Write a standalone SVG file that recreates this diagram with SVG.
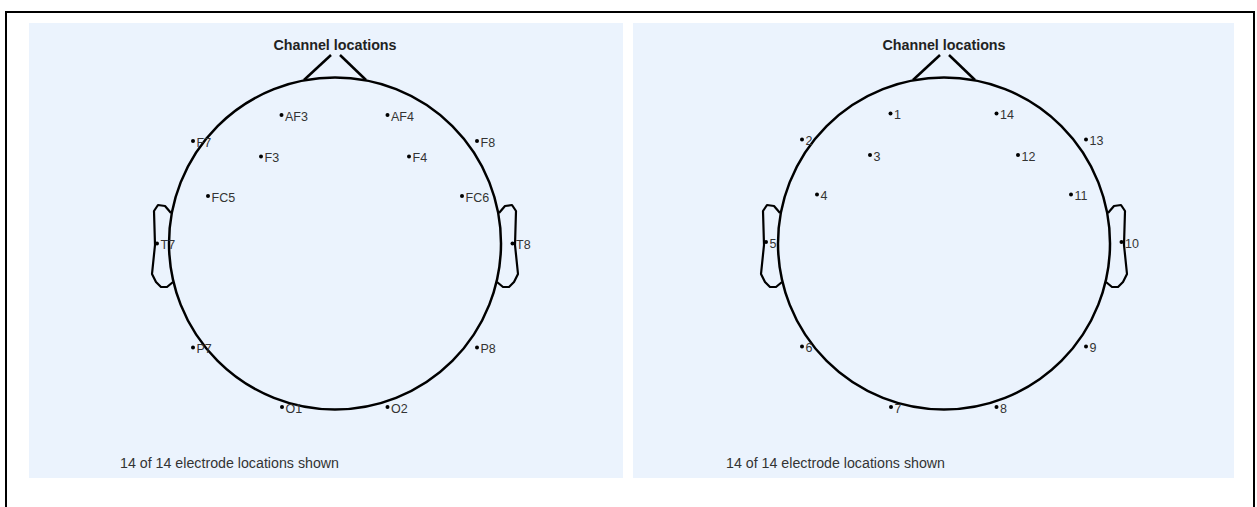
<svg xmlns="http://www.w3.org/2000/svg" width="1257" height="507" viewBox="0 0 1257 507">
<style>
.bg{fill:#ebf3fd}
.head{fill:none;stroke:#000;stroke-width:2.5}
.ear{fill:none;stroke:#000;stroke-width:2.2;stroke-linejoin:round}
.dot{fill:#000}
.lbl{font-family:"Liberation Sans",Arial,sans-serif;font-size:12.5px;fill:#333}
.title{font-family:"Liberation Sans",Arial,sans-serif;font-size:14.3px;font-weight:bold;fill:#222;text-anchor:middle}
.foot{font-family:"Liberation Sans",Arial,sans-serif;font-size:14px;fill:#333}
</style>
<defs>
<g id="headshape">
<circle cx="0" cy="0" r="166" class="head"/>
<polyline class="head" points="-31,-163.5 -4,-188.5"/>
<polyline class="head" points="5,-188.5 31,-163.5"/>
<polyline class="ear" points="-164,-30.5 -170,-37.5 -177,-38.5 -181,-32.5 -180,1.5 -183,30.5 -179,38.5 -174,43.5 -168,43.5 -162,38.5"/>
<polyline class="ear" points="164,-30.5 170,-37.5 177,-38.5 181,-32.5 180,1.5 183,30.5 179,38.5 174,43.5 168,43.5 162,38.5"/>
</g>
</defs>
<rect x="6" y="12" width="1248" height="520" fill="#fff" stroke="#000" stroke-width="2"/>
<g id="panel-left">
<rect class="bg" x="29" y="23" width="594" height="455"/>
<text class="title" x="335" y="49.5">Channel locations</text>
<use href="#headshape" x="335" y="243.5"/>
<g id="n-AF3"><circle class="dot" cx="281.5" cy="115" r="2"/><text class="lbl" x="285" y="120.5">AF3</text></g>
<g id="n-AF4"><circle class="dot" cx="387.5" cy="115" r="2"/><text class="lbl" x="391" y="120.5">AF4</text></g>
<g id="n-F7"><circle class="dot" cx="193" cy="141" r="2"/><text class="lbl" x="196.5" y="146.5">F7</text></g>
<g id="n-F8"><circle class="dot" cx="477" cy="141" r="2"/><text class="lbl" x="480.5" y="146.5">F8</text></g>
<g id="n-F3"><circle class="dot" cx="261" cy="156.5" r="2"/><text class="lbl" x="264.5" y="162">F3</text></g>
<g id="n-F4"><circle class="dot" cx="409" cy="156.5" r="2"/><text class="lbl" x="412.5" y="162">F4</text></g>
<g id="n-FC5"><circle class="dot" cx="208" cy="196" r="2"/><text class="lbl" x="211.5" y="201.5">FC5</text></g>
<g id="n-FC6"><circle class="dot" cx="462" cy="196" r="2"/><text class="lbl" x="465.5" y="201.5">FC6</text></g>
<g id="n-T7"><circle class="dot" cx="157" cy="243.5" r="2"/><text class="lbl" x="160.5" y="249">T7</text></g>
<g id="n-T8"><circle class="dot" cx="512.5" cy="243.5" r="2"/><text class="lbl" x="516" y="249">T8</text></g>
<g id="n-P7"><circle class="dot" cx="193" cy="347.5" r="2"/><text class="lbl" x="196.5" y="353">P7</text></g>
<g id="n-P8"><circle class="dot" cx="477" cy="347.5" r="2"/><text class="lbl" x="480.5" y="353">P8</text></g>
<g id="n-O1"><circle class="dot" cx="282" cy="407" r="2"/><text class="lbl" x="285.5" y="412.5">O1</text></g>
<g id="n-O2"><circle class="dot" cx="387.5" cy="407" r="2"/><text class="lbl" x="391" y="412.5">O2</text></g>
<text class="foot" x="120" y="468" textLength="219" lengthAdjust="spacingAndGlyphs">14 of 14 electrode locations shown</text>
</g>
<g id="panel-right">
<rect class="bg" x="633" y="23" width="601" height="455"/>
<text class="title" x="944" y="49.5">Channel locations</text>
<use href="#headshape" x="944" y="243.5"/>
<g id="n-1"><circle class="dot" cx="890.5" cy="113.5" r="2"/><text class="lbl" x="894" y="119">1</text></g>
<g id="n-14"><circle class="dot" cx="996.5" cy="113.5" r="2"/><text class="lbl" x="1000" y="119">14</text></g>
<g id="n-2"><circle class="dot" cx="802" cy="139.5" r="2"/><text class="lbl" x="805.5" y="145">2</text></g>
<g id="n-13"><circle class="dot" cx="1086" cy="139.5" r="2"/><text class="lbl" x="1089.5" y="145">13</text></g>
<g id="n-3"><circle class="dot" cx="870" cy="155" r="2"/><text class="lbl" x="873.5" y="160.5">3</text></g>
<g id="n-12"><circle class="dot" cx="1018" cy="155" r="2"/><text class="lbl" x="1021.5" y="160.5">12</text></g>
<g id="n-4"><circle class="dot" cx="817" cy="194.5" r="2"/><text class="lbl" x="820.5" y="200">4</text></g>
<g id="n-11"><circle class="dot" cx="1071" cy="194.5" r="2"/><text class="lbl" x="1074.5" y="200">11</text></g>
<g id="n-5"><circle class="dot" cx="766" cy="242" r="2"/><text class="lbl" x="769.5" y="247.5">5</text></g>
<g id="n-10"><circle class="dot" cx="1121.5" cy="242" r="2"/><text class="lbl" x="1125" y="247.5">10</text></g>
<g id="n-6"><circle class="dot" cx="802" cy="346.5" r="2"/><text class="lbl" x="805.5" y="352">6</text></g>
<g id="n-9"><circle class="dot" cx="1086" cy="346.5" r="2"/><text class="lbl" x="1089.5" y="352">9</text></g>
<g id="n-7"><circle class="dot" cx="891" cy="407" r="2"/><text class="lbl" x="894.5" y="412.5">7</text></g>
<g id="n-8"><circle class="dot" cx="996.5" cy="407" r="2"/><text class="lbl" x="1000" y="412.5">8</text></g>
<text class="foot" x="726" y="468" textLength="219" lengthAdjust="spacingAndGlyphs">14 of 14 electrode locations shown</text>
</g>
<g id="connectors"/>
</svg>
